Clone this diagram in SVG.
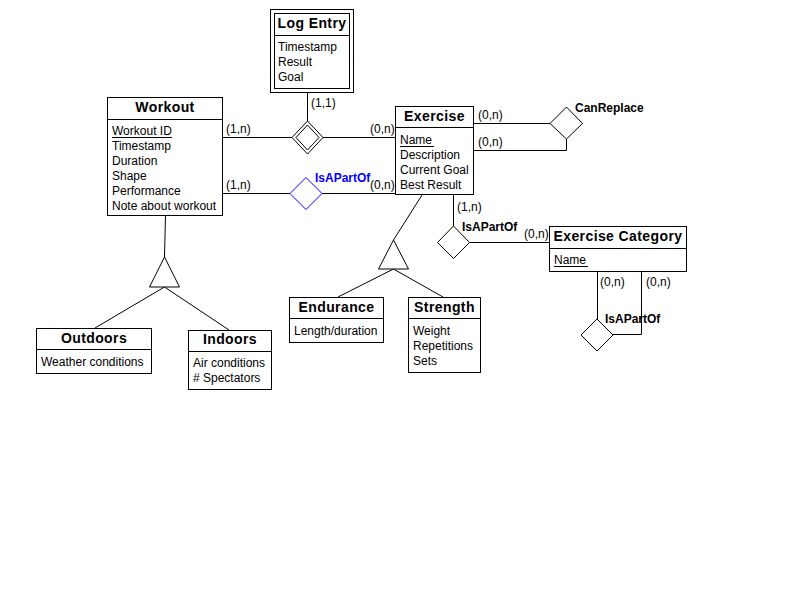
<svg xmlns="http://www.w3.org/2000/svg" width="800" height="600" viewBox="0 0 800 600">
  <style>
    .box { fill: #fff; stroke: #000; stroke-width: 1; }
    .line { fill: none; stroke: #000; stroke-width: 1; }
    .title { font-family: "Liberation Sans", Arial, sans-serif; font-size: 14px; font-weight: bold; letter-spacing: 0.4px; text-anchor: middle; fill: #000; }
    .attr { font-family: "Liberation Sans", Arial, sans-serif; font-size: 12px; fill: #000; }
    .card { font-family: "Liberation Sans", Arial, sans-serif; font-size: 12px; fill: #000; }
    .rel { font-family: "Liberation Sans", Arial, sans-serif; font-size: 12px; font-weight: bold; fill: #000; }
    .blue { fill: #0000ff; }
  </style>
  <rect width="800" height="600" fill="#fff"/>

  <!-- connectors -->
  <g id="connectors">
    <!-- Log Entry weak relationship -->
    <line class="line" x1="307.5" y1="92" x2="307.5" y2="121"/>
    <line class="line" x1="222" y1="137.5" x2="292" y2="137.5"/>
    <line class="line" x1="322" y1="137.5" x2="395" y2="137.5"/>
    <!-- Workout / Exercise IsAPartOf -->
    <line class="line" x1="222" y1="193.5" x2="290" y2="193.5"/>
    <line class="line" x1="322" y1="193.5" x2="395" y2="193.5"/>
    <!-- CanReplace -->
    <line class="line" x1="473" y1="123.5" x2="550" y2="123.5"/>
    <polyline class="line" points="473,150.5 566.5,150.5 566.5,139"/>
    <!-- Exercise specialization -->
    <line class="line" x1="422" y1="195" x2="393.5" y2="240"/>
    <line class="line" x1="393.5" y1="269" x2="338" y2="297"/>
    <line class="line" x1="393.5" y1="269" x2="443" y2="297"/>
    <!-- Workout specialization -->
    <line class="line" x1="165.5" y1="215" x2="164.5" y2="257"/>
    <line class="line" x1="164.5" y1="287" x2="95" y2="328"/>
    <line class="line" x1="164.5" y1="287" x2="229" y2="330"/>
    <!-- Exercise / Exercise Category -->
    <line class="line" x1="453.5" y1="195" x2="453.5" y2="226"/>
    <line class="line" x1="469" y1="242.5" x2="549" y2="242.5"/>
    <!-- Exercise Category self relationship -->
    <line class="line" x1="597.5" y1="271" x2="597.5" y2="319"/>
    <polyline class="line" points="641.5,271 641.5,334.5 613,334.5"/>
  </g>

  <!-- relationship diamonds -->
  <g id="rel-logentry">
    <polygon class="box" points="307.5,121 323,137.5 307.5,154 292,137.5"/>
    <polygon class="box" points="307.5,125 319,137.5 307.5,150 296,137.5"/>
  </g>
  <g id="rel-isapartof-workout">
    <polygon points="306,177.5 322,193.5 306,209.5 290,193.5" fill="#fff" stroke="#0000ff" stroke-width="1"/>
    <text class="rel blue" x="315" y="182">IsAPartOf</text>
  </g>
  <g id="rel-canreplace">
    <polygon class="box" points="566.5,107 582.5,123.5 566.5,139 550,123.5"/>
    <text class="rel" x="575" y="112">CanReplace</text>
  </g>
  <g id="rel-isapartof-category">
    <polygon class="box" points="453.5,226 469.5,242.5 453.5,258.5 437.5,242.5"/>
    <text class="rel" x="462" y="231">IsAPartOf</text>
  </g>
  <g id="rel-isapartof-self">
    <polygon class="box" points="597,319 613,335 597,351 581,335"/>
    <text class="rel" x="605" y="323">IsAPartOf</text>
  </g>

  <!-- ISA triangles -->
  <g id="isa-exercise">
    <polygon class="box" points="393.5,240 408.5,269 378.5,269"/>
  </g>
  <g id="isa-workout">
    <polygon class="box" points="164.5,257 179.5,287 149.5,287"/>
  </g>

  <!-- cardinalities -->
  <g id="cardinalities">
    <text class="card" x="311" y="107">(1,1)</text>
    <text class="card" x="226" y="133">(1,n)</text>
    <text class="card" x="370" y="133">(0,n)</text>
    <text class="card" x="226" y="189">(1,n)</text>
    <text class="card" x="370" y="189">(0,n)</text>
    <text class="card" x="478" y="119">(0,n)</text>
    <text class="card" x="478" y="146">(0,n)</text>
    <text class="card" x="457" y="211">(1,n)</text>
    <text class="card" x="524" y="238">(0,n)</text>
    <text class="card" x="600" y="286">(0,n)</text>
    <text class="card" x="646" y="286">(0,n)</text>
  </g>

  <!-- entities -->
  <g id="log-entry">
    <rect class="box" x="270.5" y="9.5" width="83" height="83"/>
    <rect class="box" x="274.5" y="13.5" width="75" height="75"/>
    <text class="title" x="312" y="28">Log Entry</text>
    <line class="line" x1="274.5" y1="35.5" x2="349.5" y2="35.5"/>
    <text class="attr" x="278" y="51">Timestamp</text>
    <text class="attr" x="278" y="66">Result</text>
    <text class="attr" x="278" y="81">Goal</text>
  </g>

  <g id="workout">
    <rect class="box" x="107.5" y="97.5" width="115" height="118"/>
    <text class="title" x="165" y="112">Workout</text>
    <line class="line" x1="107.5" y1="119.5" x2="222.5" y2="119.5"/>
    <text class="attr" x="112" y="135">Workout ID</text>
    <line class="line" x1="112" y1="137.5" x2="172" y2="137.5"/>
    <text class="attr" x="112" y="150">Timestamp</text>
    <text class="attr" x="112" y="165">Duration</text>
    <text class="attr" x="112" y="180">Shape</text>
    <text class="attr" x="112" y="195">Performance</text>
    <text class="attr" x="112" y="210">Note about workout</text>
  </g>

  <g id="exercise">
    <rect class="box" x="395.5" y="106.5" width="78" height="88"/>
    <text class="title" x="434.5" y="121">Exercise</text>
    <line class="line" x1="395.5" y1="127.5" x2="473.5" y2="127.5"/>
    <text class="attr" x="400" y="144">Name</text>
    <line class="line" x1="400" y1="146.5" x2="434" y2="146.5"/>
    <text class="attr" x="400" y="159">Description</text>
    <text class="attr" x="400" y="174">Current Goal</text>
    <text class="attr" x="400" y="189">Best Result</text>
  </g>

  <g id="exercise-category">
    <rect class="box" x="549.5" y="226.5" width="137" height="45"/>
    <text class="title" x="618" y="241">Exercise Category</text>
    <line class="line" x1="549.5" y1="248.5" x2="686.5" y2="248.5"/>
    <text class="attr" x="554" y="264">Name</text>
    <line class="line" x1="554" y1="266.5" x2="588" y2="266.5"/>
  </g>

  <g id="endurance">
    <rect class="box" x="289.5" y="297.5" width="94" height="45"/>
    <text class="title" x="336.5" y="312">Endurance</text>
    <line class="line" x1="289.5" y1="318.5" x2="383.5" y2="318.5"/>
    <text class="attr" x="294" y="335">Length/duration</text>
  </g>

  <g id="strength">
    <rect class="box" x="408.5" y="297.5" width="72" height="75"/>
    <text class="title" x="444.5" y="312">Strength</text>
    <line class="line" x1="408.5" y1="318.5" x2="480.5" y2="318.5"/>
    <text class="attr" x="413" y="335">Weight</text>
    <text class="attr" x="413" y="350">Repetitions</text>
    <text class="attr" x="413" y="365">Sets</text>
  </g>

  <g id="outdoors">
    <rect class="box" x="36.5" y="328.5" width="115" height="45"/>
    <text class="title" x="94" y="343">Outdoors</text>
    <line class="line" x1="36.5" y1="349.5" x2="151.5" y2="349.5"/>
    <text class="attr" x="41" y="366">Weather conditions</text>
  </g>

  <g id="indoors">
    <rect class="box" x="188.5" y="330.5" width="83" height="59"/>
    <text class="title" x="230" y="344">Indoors</text>
    <line class="line" x1="188.5" y1="351.5" x2="271.5" y2="351.5"/>
    <text class="attr" x="193" y="367">Air conditions</text>
    <text class="attr" x="193" y="382"># Spectators</text>
  </g>
</svg>
